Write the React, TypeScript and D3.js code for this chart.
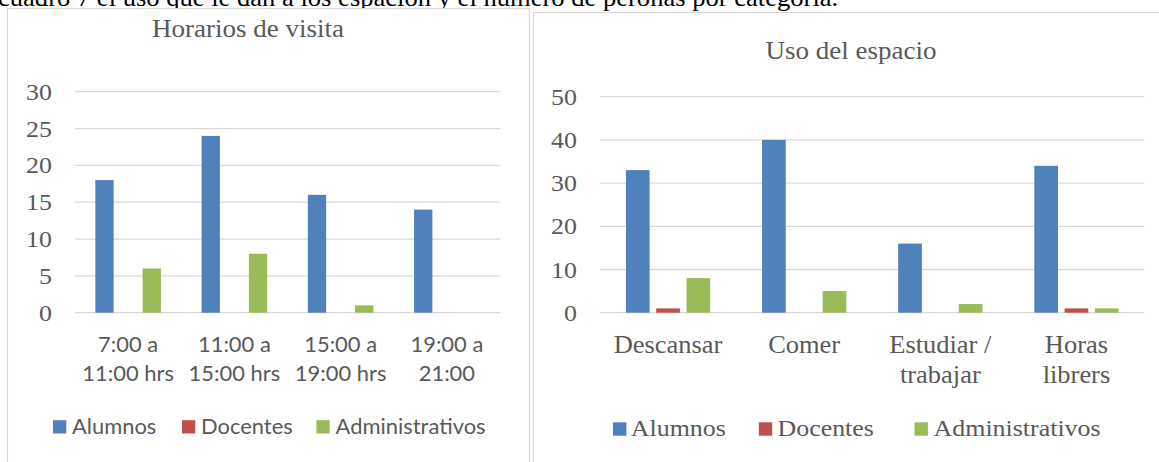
import React from "react";
import * as d3 from "d3";

// ---------- data ----------
const seriesNames = ["Alumnos", "Docentes", "Administrativos"];
const seriesColors = ["#4F81BD", "#C0504D", "#9BBB59"];

const visitCategories = ["7:00 a\n11:00 hrs", "11:00 a\n15:00 hrs", "15:00 a\n19:00 hrs", "19:00 a\n21:00"];
const visitAlumnos = [18, 24, 16, 14];
const visitDocentes = [0, 0, 0, 0];
const visitAdministrativos = [6, 8, 1, 0];
const visitTicks = [0, 5, 10, 15, 20, 25, 30];

const usoCategories = ["Descansar", "Comer", "Estudiar /\ntrabajar", "Horas\nlibrers"];
const usoAlumnos = [33, 40, 16, 34];
const usoDocentes = [1, 0, 0, 1];
const usoAdministrativos = [8, 5, 2, 1];
const usoTicks = [0, 10, 20, 30, 40, 50];

const caption = "cuadro 7 el uso que le dan a los espacion y el número de peronas por categoría.";

const SERIF = "'Liberation Serif', 'Times New Roman', serif";
const SANS = "Lato, 'Open Sans', sans-serif";
const TXT = "#595959";
const GRID = "#D9D9D9";

type TProps = {
  x: number; y: number; size: number; family: string; sx?: number;
  anchor?: "start" | "middle" | "end"; fill?: string; children: React.ReactNode;
};
function T({ x, y, size, family, sx = 1, anchor = "start", fill = TXT, children }: TProps) {
  return (
    <g transform={`translate(${x},${y}) scale(${sx},1)`}>
      <text x={0} y={0} fontSize={size} fontFamily={family} textAnchor={anchor} fill={fill}>
        {children}
      </text>
    </g>
  );
}

type ChartCfg = {
  title: string; titleX: number; titleY: number;
  categories: string[]; values: number[][]; ticks: number[];
  x0: number; x1: number; yTop: number; yBottom: number;
  stride: number; barW: number;
  tickRight: number;
  catFamily: string; catSize: number; catSx: number; catY1: number; catY2: number;
  legendFamily: string; legendSize: number; legendSx: number;
  legendSquares: number[]; legendTexts: number[]; legendY: number; legendSq: number;
};

function Chart(c: ChartCfg) {
  const maxT = c.ticks[c.ticks.length - 1];
  const y = d3.scaleLinear().domain([0, maxT]).range([c.yBottom, c.yTop]);
  const xCat = d3.scaleBand<string>().domain(c.categories).range([c.x0, c.x1]).padding(0);
  const groupW = c.stride * seriesNames.length;
  const pad = 1 - c.barW / c.stride;
  const xSer = d3.scaleBand<string>().domain(seriesNames).range([-groupW / 2, groupW / 2])
    .paddingInner(pad).paddingOuter(pad / 2);

  return (
    <g>
      {c.ticks.map((t) => (
        <g key={t}>
          <line x1={c.x0} x2={c.x1} y1={y(t)} y2={y(t)} stroke={GRID} strokeWidth={1.3} />
          <T x={c.tickRight} y={y(t) + 8} size={24} family={SERIF} sx={1.08} anchor="end">{t}</T>
        </g>
      ))}
      {c.categories.map((cat, ci) => {
        const cx = (xCat(cat) as number) + xCat.bandwidth() / 2;
        return (
          <g key={cat}>
            {seriesNames.map((s, si) => {
              const v = c.values[si][ci];
              const bx = cx + (xSer(s) as number);
              return v > 0 ? (
                <rect key={s} x={bx} y={y(v)} width={xSer.bandwidth()} height={y(0) - y(v)} fill={seriesColors[si]} />
              ) : null;
            })}
            {cat.split("\n").map((ln, li) => (
              <T key={li} x={cx} y={li === 0 ? c.catY1 : c.catY2} size={c.catSize} family={c.catFamily} sx={c.catSx} anchor="middle">{ln}</T>
            ))}
          </g>
        );
      })}
      <T x={c.titleX} y={c.titleY} size={25} family={SERIF} sx={1.08} anchor="middle">{c.title}</T>
      {seriesNames.map((s, si) => (
        <g key={s}>
          <rect x={c.legendSquares[si]} y={c.legendY - c.legendSq} width={c.legendSq} height={c.legendSq} fill={seriesColors[si]} />
          <T x={c.legendTexts[si]} y={c.legendY} size={c.legendSize} family={c.legendFamily} sx={c.legendSx}>{s}</T>
        </g>
      ))}
    </g>
  );
}

export default function App() {
  return (
    <svg width={1159} height={462} style={{ position: "absolute", left: 0, top: 0, background: "#fff" }}>
      <rect x={0} y={0} width={1159} height={462} fill="#fff" />
      <T x={-2} y={5.5} size={24.5} sx={1.085} family={SERIF} fill="#000">{caption}</T>
      <rect x={0} y={8} width={531} height={454} fill="#fff" />
      <rect x={531} y={12} width={628} height={450} fill="#fff" />
      {/* panel borders */}
      <path d="M7.5,462 V8.5 H529.5 V462" fill="none" stroke={GRID} strokeWidth={1.2} />
      <path d="M533.5,462 V12.5 H1159" fill="none" stroke={GRID} strokeWidth={1.2} />
      <Chart
        title="Horarios de visita" titleX={248} titleY={37}
        categories={visitCategories}
        values={[visitAlumnos, visitDocentes, visitAdministrativos]}
        ticks={visitTicks}
        x0={75} x1={500} yTop={91.7} yBottom={312.7}
        stride={23.65} barW={18.3} tickRight={52}
        catFamily={SANS} catSize={21.5} catSx={1.02} catY1={352} catY2={381}
        legendFamily={SANS} legendSize={21.5} legendSx={1.02}
        legendSquares={[53, 182, 316.4]} legendTexts={[72, 201, 335.6]} legendY={433.5} legendSq={13.3}
      />
      <Chart
        title="Uso del espacio" titleX={851} titleY={59.3}
        categories={usoCategories}
        values={[usoAlumnos, usoDocentes, usoAdministrativos]}
        ticks={usoTicks}
        x0={600} x1={1144.5} yTop={96.7} yBottom={312.7}
        stride={30.3} barW={23.7} tickRight={577}
        catFamily={SERIF} catSize={24.5} catSx={1.08} catY1={353.3} catY2={382.7}
        legendFamily={SERIF} legendSize={24} legendSx={1.08}
        legendSquares={[613, 758.8, 914.5]} legendTexts={[630.8, 777.5, 933.6]} legendY={435.7} legendSq={13.4}
      />
    </svg>
  );
}
